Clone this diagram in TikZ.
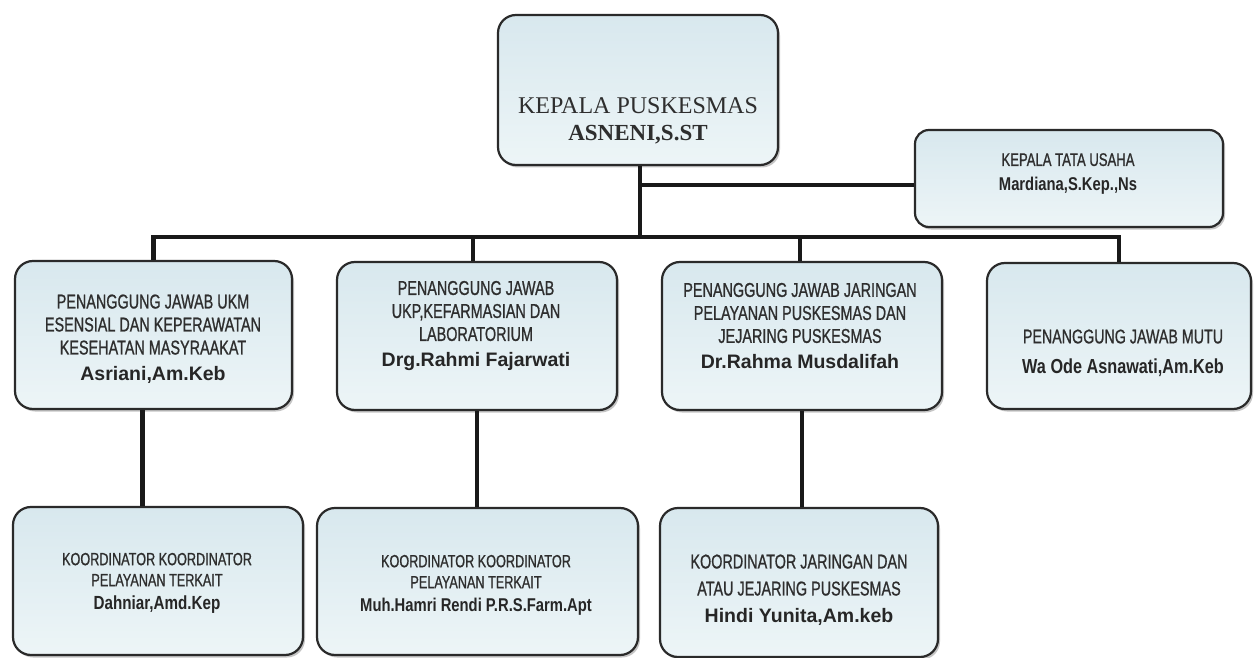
\documentclass[tikz,border=0pt]{standalone}
\usepackage{fontspec}
\setmainfont{Liberation Serif}
\newfontfamily\agency[FakeStretch=0.72,FakeBold=0.9]{Liberation Sans}
\newfontfamily\agencyb[FakeStretch=0.8]{Liberation Sans}
\newfontfamily\arialb{Liberation Sans}
\usetikzlibrary{shadows}
\definecolor{boxtop}{HTML}{D8E8EE}
\definecolor{boxbot}{HTML}{EDF5F7}
\definecolor{boxline}{HTML}{2A2A2A}
\definecolor{txtgray}{HTML}{2E2E2E}
\tikzset{
  orgbox/.style={draw=boxline, line width=2.2pt, rounded corners=18pt,
    top color=boxtop, bottom color=boxbot, inner sep=0pt,
    drop shadow={shadow xshift=2pt, shadow yshift=-2.5pt, fill=black!45, opacity=0.5}},
  txt/.style={align=center, inner sep=0pt, text=txtgray},
  link/.style={line width=4.5pt, draw=black!90}
}
\newcommand{\nm}[1]{{\arialb\bfseries\fontsize{19.5}{23}\selectfont\color{black!85}#1}}
\newcommand{\nmb}[2]{{\agencyb\bfseries\fontsize{#1}{23}\selectfont\color{black!85}#2}}
\begin{document}
\begin{tikzpicture}[x=1pt,y=-1pt]
\useasboundingbox[fill=white] (0,0) rectangle (1254,658);

% boxes
\node[orgbox, minimum width=280pt, minimum height=150pt] (top) at (638,90) {};
\node[orgbox, minimum width=308pt, minimum height=97pt, rounded corners=14pt] (tu) at (1069,178.5) {};
\node[orgbox, minimum width=277pt, minimum height=148pt] (b1) at (153.5,335) {};
\node[orgbox, minimum width=280pt, minimum height=148pt] (b2) at (477,336) {};
\node[orgbox, minimum width=280pt, minimum height=148pt] (b3) at (802,336) {};
\node[orgbox, minimum width=264pt, minimum height=146pt] (b4) at (1119,336) {};
\node[orgbox, minimum width=290pt, minimum height=148pt] (b5) at (158,581) {};
\node[orgbox, minimum width=321pt, minimum height=147pt] (b6) at (477.5,581.5) {};
\node[orgbox, minimum width=278pt, minimum height=149pt] (b7) at (799,582.5) {};

% connectors
\coordinate (bus) at (640,237);
\coordinate (tuj) at (640,185);
\draw[link] ([xshift=2pt]top.south) -- ([xshift=2pt]top.south |- bus);
\draw[link] (tuj) -- (tuj -| tu.west);
\draw[link] (b1.north) -- (b1.north |- bus) -| (b4.north);
\draw[link] ([xshift=-4pt]b2.north) -- ([xshift=-4pt]b2.north |- bus);
\draw[link] ([xshift=-2pt]b3.north) -- ([xshift=-2pt]b3.north |- bus);
\draw[link] ([xshift=-11pt]b1.south) -- ([xshift=-11pt]b1.south |- b5.north);
\draw[link] (b2.south) -- (b2.south |- b6.north);
\draw[link] (b3.south) -- (b3.south |- b7.north);

% texts
\node[txt, font=\fontsize{24}{27}\selectfont] (t0) at (638,121)
  {KEPALA PUSKESMAS\\{\bfseries\fontsize{23}{27}\selectfont ASNENI,S.ST}};
\node[txt, font=\agency\fontsize{18.2}{25}\selectfont] (ttu) at (1068,174)
  {KEPALA TATA USAHA\\\nmb{18.5}{Mardiana,S.Kep.,Ns}};
\node[txt, font=\agency\fontsize{20}{23}\selectfont] (t1) at (153,339)
  {PENANGGUNG JAWAB UKM\\ESENSIAL DAN KEPERAWATAN\\KESEHATAN MASYRAAKAT\\[3pt]\nm{Asriani,Am.Keb}};
\node[txt, font=\agency\fontsize{20}{23}\selectfont] (t2) at (476,326)
  {PENANGGUNG JAWAB\\UKP,KEFARMASIAN DAN\\LABORATORIUM\\[3pt]\nm{Drg.Rahmi Fajarwati}};
\node[txt, font=\agency\fontsize{20}{23}\selectfont] (t3) at (800,326)
  {PENANGGUNG JAWAB JARINGAN\\PELAYANAN PUSKESMAS DAN\\JEJARING PUSKESMAS\\[3pt]\nm{Dr.Rahma Musdalifah}};
\node[txt, font=\agency\fontsize{19.8}{30}\selectfont] (t4) at (1123,353)
  {PENANGGUNG JAWAB MUTU\\\nmb{20.3}{Wa Ode Asnawati,Am.Keb}};
\node[txt, font=\agency\fontsize{17.6}{21}\selectfont] (t5) at (157,583)
  {KOORDINATOR KOORDINATOR\\PELAYANAN TERKAIT\\[2pt]\nmb{19}{Dahniar,Amd.Kep}};
\node[txt, font=\agency\fontsize{17.6}{21}\selectfont] (t6) at (476,585)
  {KOORDINATOR KOORDINATOR\\PELAYANAN TERKAIT\\[2pt]\nmb{18.5}{Muh.Hamri Rendi P.R.S.Farm.Apt}};
\node[txt, font=\agency\fontsize{20}{27}\selectfont] (t7) at (799,590)
  {KOORDINATOR JARINGAN DAN\\ATAU JEJARING PUSKESMAS\\\nm{Hindi Yunita,Am.keb}};
\end{tikzpicture}
\end{document}
